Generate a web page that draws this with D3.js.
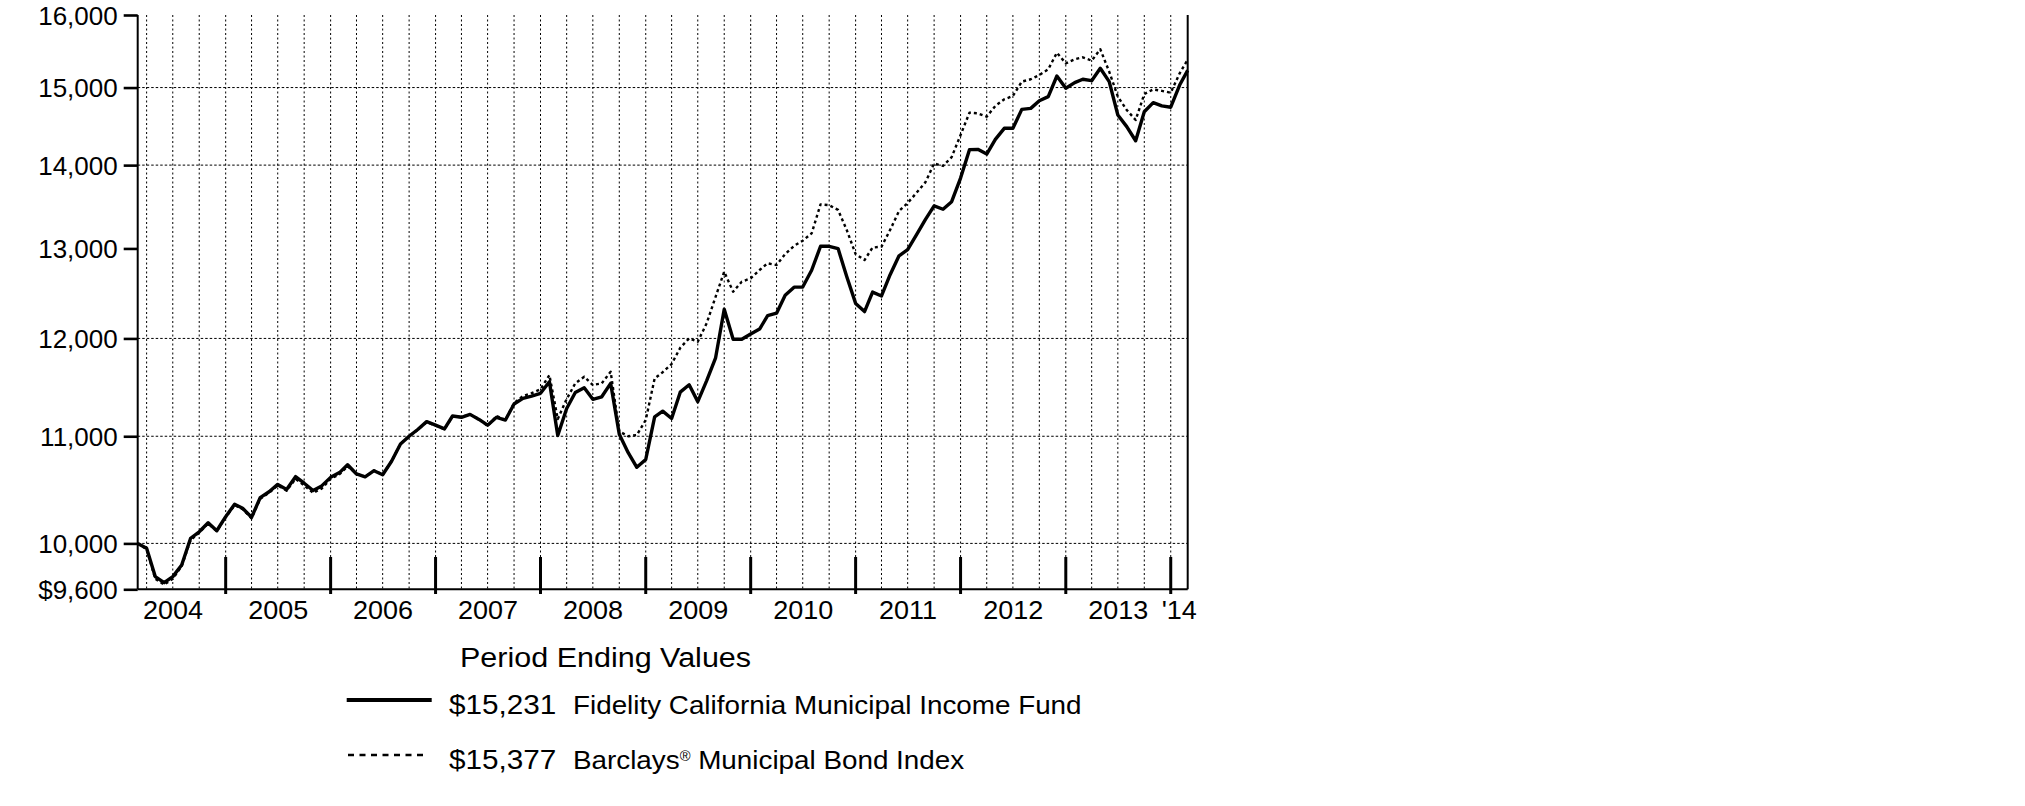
<!DOCTYPE html>
<html>
<head>
<meta charset="utf-8">
<script src="https://cdn.jsdelivr.net/npm/d3@7"></script>
<style>
  html, body { margin: 0; padding: 0; background: #fff; }
  svg { display: block; }
  text { font-family: "Liberation Sans", Arial, Helvetica, sans-serif; fill: #000; }
</style>
</head>
<body>
<svg id="chart" width="2025" height="806"></svg>
<script>
// ---- DATA ----
// Monthly period-ending values, Feb 2004 .. Feb 2014 (121 months)
const firstPeriod = "2004-02";
const lastPeriod = "2014-02";
const fundName = "Fidelity California Municipal Income Fund";
const indexName = "Barclays";
const fundEnding = "$15,231";
const indexEnding = "$15,377";
const fundValues = [
  10000, 9957, 9709, 9657, 9709, 9810, 10046, 10104, 10185, 10113, 10241, 10354,
  10317, 10235, 10415, 10470, 10539, 10492, 10612, 10550, 10482, 10525, 10605, 10650,
  10725, 10637, 10610, 10668, 10630, 10758, 10925, 11000, 11069, 11144, 11109, 11072,
  11200, 11187, 11216, 11166, 11109, 11187, 11160, 11320, 11377, 11400, 11428, 11547,
  11007, 11275, 11436, 11485, 11367, 11393, 11530, 11020, 10840, 10700, 10775, 11192,
  11248, 11175, 11440, 11515, 11344, 11558, 11795, 12315, 11991, 11991, 12048, 12101,
  12245, 12272, 12470, 12560, 12562, 12750, 13025, 13025, 12998, 12680, 12380, 12290,
  12505, 12462, 12700, 12915, 12986, 13160, 13340, 13501, 13461, 13552, 13840, 14194,
  14198, 14139, 14325, 14466, 14466, 14712, 14725, 14826, 14880, 15155, 14990, 15066,
  15111, 15092, 15259, 15079, 14638, 14488, 14307, 14681, 14800, 14757, 14740, 15034,
  15231
];
const indexValues = [
  10000, 9950, 9690, 9640, 9690, 9800, 10030, 10095, 10180, 10110, 10235, 10345,
  10310, 10225, 10405, 10460, 10530, 10480, 10590, 10530, 10460, 10500, 10590, 10635,
  10710, 10640, 10610, 10670, 10630, 10760, 10925, 11000, 11065, 11140, 11105, 11070,
  11195, 11190, 11215, 11170, 11100, 11200, 11160, 11330, 11400, 11430, 11470, 11615,
  11170, 11370, 11530, 11598, 11513, 11530, 11650, 11048, 11000, 11012, 11160, 11580,
  11645, 11730, 11900, 12001, 11965, 12163, 12453, 12734, 12509, 12621, 12659, 12753,
  12829, 12810, 12935, 13030, 13090, 13175, 13520, 13510, 13453, 13216, 12935, 12867,
  13010, 13021, 13216, 13440, 13537, 13660, 13790, 14020, 13990, 14100, 14380, 14669,
  14660, 14616, 14757, 14844, 14888, 15079, 15111, 15168, 15245, 15472, 15326, 15382,
  15409, 15363, 15520, 15213, 14880, 14704, 14573, 14914, 14976, 14956, 14931, 15191,
  15377
];
const yTickValues = [9600, 10000, 11000, 12000, 13000, 14000, 15000, 16000];
const yTickLabels = ["$9,600", "10,000", "11,000", "12,000", "13,000", "14,000", "15,000", "16,000"];
const yGridValues = [10000, 11000, 12000, 14000, 15000];
const yearLabels = ["2004", "2005", "2006", "2007", "2008", "2009", "2010", "2011", "2012", "2013", "'14"];
const legendTitle = "Period Ending Values";

// ---- LAYOUT ----
const svg = d3.select("#chart");
const plotLeft = 137.7, plotRight = 1187.7, plotTop = 15, plotBottom = 589.3;
const parseMonth = d3.timeParse("%Y-%m");
// a month-end value is placed at the first day of the following month
const startDate = d3.timeMonth.offset(parseMonth(firstPeriod), 1);
const endDate = d3.timeMonth.offset(parseMonth(lastPeriod), 1);
const dates = fundValues.map((_, i) => d3.timeMonth.offset(startDate, i));

const x = d3.scaleTime().domain([startDate, endDate]).range([plotLeft, plotRight]);
const y = d3.scaleLog().domain([9600, 16000]).range([plotBottom, plotTop]);

const fontFamily = '"Liberation Sans", Arial, Helvetica, sans-serif';

function stretchedText(parent, tx, ty, str, size, sx, anchor) {
  const g = parent.append("g").attr("transform", `translate(${tx},${ty}) scale(${sx},1)`);
  return g.append("text").attr("x", 0).attr("y", 0)
    .attr("font-size", size).attr("text-anchor", anchor || "start").text(str);
}

// Grid: vertical quarterly dotted lines
const quarterTicks = x.ticks(d3.timeMonth.every(3)).filter(d => d > startDate && d < endDate);
svg.append("g").selectAll("line").data(quarterTicks).join("line")
  .attr("x1", d => x(d)).attr("x2", d => x(d))
  .attr("y1", plotTop).attr("y2", plotBottom)
  .attr("stroke", "#000").attr("stroke-width", 1).attr("stroke-dasharray", "2,2.5");

// Grid: horizontal dotted lines
svg.append("g").selectAll("line").data(yGridValues).join("line")
  .attr("x1", plotLeft).attr("x2", plotRight)
  .attr("y1", d => y(d)).attr("y2", d => y(d))
  .attr("stroke", "#000").attr("stroke-width", 1).attr("stroke-dasharray", "2.5,2");

// Y axis
const yAxis = d3.axisLeft(y).tickValues(yTickValues).tickSize(14).tickSizeOuter(0)
  .tickFormat((d, i) => yTickLabels[i]).tickPadding(6);
const yAxisG = svg.append("g").attr("transform", `translate(${plotLeft},0)`).call(yAxis);
yAxisG.select(".domain").attr("stroke", "#000").attr("stroke-width", 2)
  .attr("d", `M0,${plotTop}V${plotBottom}`);
yAxisG.selectAll(".tick line").attr("stroke", "#000").attr("stroke-width", 2.6);
yAxisG.selectAll(".tick text").attr("font-size", 26).attr("font-family", fontFamily)
  .attr("fill", "#000").attr("dy", "0.36em");

// Right border & bottom axis line
svg.append("line").attr("x1", plotRight).attr("x2", plotRight).attr("y1", plotTop).attr("y2", plotBottom)
  .attr("stroke", "#000").attr("stroke-width", 2);
svg.append("line").attr("x1", plotLeft).attr("x2", plotRight).attr("y1", plotBottom).attr("y2", plotBottom)
  .attr("stroke", "#000").attr("stroke-width", 2);

// Year boundary tick marks
const yearTicks = x.ticks(d3.timeYear.every(1)).filter(d => d > startDate && d < endDate);
svg.append("g").selectAll("line").data(yearTicks).join("line")
  .attr("x1", d => x(d)).attr("x2", d => x(d))
  .attr("y1", 557).attr("y2", 594)
  .attr("stroke", "#000").attr("stroke-width", 3);

// Year labels
const yearStarts = d3.timeYear.range(d3.timeYear.floor(startDate), endDate);
yearStarts.forEach((ys, i) => {
  const ye = d3.timeYear.offset(ys, 1);
  let cx;
  if (ye <= endDate) cx = x(new Date((+ys + +ye) / 2));
  else cx = (x(ys) + x(endDate)) / 2;
  stretchedText(svg, cx, 619, yearLabels[i], 25, 1.08, "middle");
});

// Lines
const line = d3.line().x((d, i) => x(dates[i])).y(d => y(d)).curve(d3.curveLinear);
svg.append("path").datum(indexValues).attr("d", line)
  .attr("fill", "none").attr("stroke", "#000").attr("stroke-width", 2.4)
  .attr("stroke-dasharray", "3,3").attr("stroke-linejoin", "round");
svg.append("path").datum(fundValues).attr("d", line)
  .attr("fill", "none").attr("stroke", "#000").attr("stroke-width", 3.4)
  .attr("stroke-linejoin", "round");

// Legend
const leg = svg.append("g");
stretchedText(leg, 460, 667, legendTitle, 27, 1.13, "start");
leg.append("line").attr("x1", 346.7).attr("x2", 431.7).attr("y1", 700).attr("y2", 700)
  .attr("stroke", "#000").attr("stroke-width", 4);
stretchedText(leg, 449, 714, fundEnding, 27, 1.1, "start");
stretchedText(leg, 573, 714, fundName, 26.5, 1.05, "start");

leg.append("line").attr("x1", 348).attr("x2", 428).attr("y1", 755).attr("y2", 755)
  .attr("stroke", "#000").attr("stroke-width", 2.5).attr("stroke-dasharray", "6,5.5");
stretchedText(leg, 449, 769.3, indexEnding, 27, 1.1, "start");
const t2 = stretchedText(leg, 573, 768.5, indexName, 26.5, 1.05, "start");
t2.append("tspan").attr("font-size", 14).attr("dy", -8).text("\u00AE");
t2.append("tspan").attr("dy", 8).text(" Municipal Bond Index");
</script>
</body>
</html>
